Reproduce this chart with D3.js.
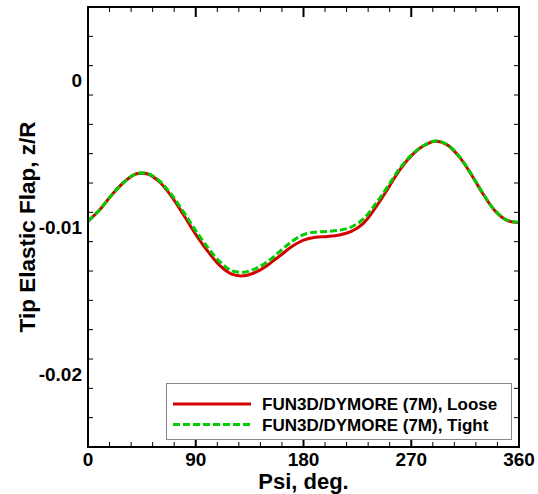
<html>
<head>
  <meta charset="utf-8">
  <script src="https://d3js.org/d3.v7.min.js"></script>
  <style>
    body { margin: 0; background: #fff; }
    text { font-family: "Liberation Sans", Arial, sans-serif; font-weight: bold; }
  </style>
</head>
<body>
  <svg id="chart" width="538" height="494"></svg>
  <script>
    // azimuth (deg)
    const psi = [0, 10, 20, 30, 40, 50, 60, 70, 80, 90, 100, 110, 120, 130, 140, 150, 160, 170, 180,
                 190, 200, 210, 220, 230, 240, 250, 260, 270, 280, 290, 300, 310, 320, 330, 340, 350, 360];
    // tip elastic flap z/R
    const loose = [-0.00960, -0.00880, -0.00780, -0.00695, -0.00639, -0.00639, -0.00695, -0.00795, -0.00920, -0.01050,
                   -0.01165, -0.01262, -0.01322, -0.01333, -0.01308, -0.01260, -0.01198, -0.01135, -0.01090,
                   -0.01070, -0.01065, -0.01055, -0.01030, -0.00975, -0.00870, -0.00745, -0.00615, -0.00515,
                   -0.00448, -0.00415, -0.00440, -0.00520, -0.00640, -0.00775, -0.00890, -0.00955, -0.00970];
    const tight = [-0.00960, -0.00880, -0.00780, -0.00695, -0.00638, -0.00636, -0.00688, -0.00782, -0.00900, -0.01025,
                   -0.01140, -0.01236, -0.01298, -0.01308, -0.01283, -0.01236, -0.01168, -0.01100, -0.01052,
                   -0.01035, -0.01030, -0.01022, -0.01000, -0.00945, -0.00845, -0.00728, -0.00605, -0.00510,
                   -0.00446, -0.00413, -0.00438, -0.00518, -0.00638, -0.00772, -0.00888, -0.00953, -0.00968];
    const xMajor = [0, 90, 180, 270, 360];
    const yMajor = [0, -0.01, -0.02];
    const yLabels = ["0", "-0.01", "-0.02"];
    const seriesNames = ["FUN3D/DYMORE (7M), Loose", "FUN3D/DYMORE (7M), Tight"];

    const pL = 88, pR = 519, pT = 7, pB = 447;
    const svg = d3.select("#chart");

    const x = d3.scaleLinear().domain([0, 360]).range([pL, pR]);
    const y = d3.scaleLinear().domain([-0.025, 0.005]).range([pB, pT]);

    // ticks (inward, all four sides)
    const g = svg.append("g");
    d3.range(0, 361, 18).forEach(v => {
      const len = v % 90 === 0 ? 10 : 5;
      const w = v % 90 === 0 ? 2 : 1;
      g.append("line").attr("x1", x(v)).attr("x2", x(v)).attr("y1", pB).attr("y2", pB - len)
        .attr("stroke", "#000").attr("stroke-width", w);
      g.append("line").attr("x1", x(v)).attr("x2", x(v)).attr("y1", pT).attr("y2", pT + len)
        .attr("stroke", "#000").attr("stroke-width", w);
    });
    d3.range(-25, 6, 2).map(v => v / 1000).forEach(v => {
      const major = Math.abs(Math.round(v * 1000) % 10) === 0;
      const len = major ? 10 : 5;
      const w = major ? 2 : 1;
      g.append("line").attr("x1", pL).attr("x2", pL + len).attr("y1", y(v)).attr("y2", y(v))
        .attr("stroke", "#000").attr("stroke-width", w);
      g.append("line").attr("x1", pR).attr("x2", pR - len).attr("y1", y(v)).attr("y2", y(v))
        .attr("stroke", "#000").attr("stroke-width", w);
    });

    // tick labels
    xMajor.forEach(v => {
      svg.append("text").attr("x", x(v)).attr("y", pB + 19).attr("text-anchor", "middle")
        .attr("font-size", "19px").text(v);
    });
    yMajor.forEach((v, i) => {
      svg.append("text").attr("x", pL - 6).attr("y", y(v) + 7).attr("text-anchor", "end")
        .attr("font-size", "19px").text(yLabels[i]);
    });

    // axis titles
    svg.append("text").attr("x", (pL + pR) / 2).attr("y", 488.5).attr("text-anchor", "middle")
      .attr("font-size", "22px").text("Psi, deg.");
    svg.append("text").attr("transform", `translate(35, ${(pT + pB) / 2}) rotate(-90)`)
      .attr("text-anchor", "middle").attr("font-size", "22.5px").text("Tip Elastic Flap, z/R");

    // curves
    const line = d3.line().x(d => x(d[0])).y(d => y(d[1])).curve(d3.curveCatmullRom);
    svg.append("path").datum(psi.map((p, i) => [p, loose[i]])).attr("d", line)
      .attr("fill", "none").attr("stroke", "#d40000").attr("stroke-width", 3);
    svg.append("path").datum(psi.map((p, i) => [p, tight[i]])).attr("d", line)
      .attr("fill", "none").attr("stroke", "#00cc00").attr("stroke-width", 3).attr("stroke-dasharray", "7,3");

    // frame
    svg.append("rect").attr("x", pL).attr("y", pT).attr("width", pR - pL).attr("height", pB - pT)
      .attr("fill", "none").attr("stroke", "#000").attr("stroke-width", 2);

    // legend
    const lg = svg.append("g");
    lg.append("rect").attr("x", 166.5).attr("y", 383.5).attr("width", 345).attr("height", 56)
      .attr("fill", "#fff").attr("stroke", "#888").attr("stroke-width", 1);
    const colors = ["#d40000", "#00cc00"];
    const dashes = [null, "7,3"];
    seriesNames.forEach((name, i) => {
      const ly = 404 + i * 20.5;
      lg.append("line").attr("x1", 173).attr("x2", 251).attr("y1", ly).attr("y2", ly)
        .attr("stroke", colors[i]).attr("stroke-width", 3).attr("stroke-dasharray", dashes[i]);
      lg.append("text").attr("x", 262).attr("y", ly + 6).attr("font-size", "17px").text(name);
    });
  </script>
</body>
</html>
